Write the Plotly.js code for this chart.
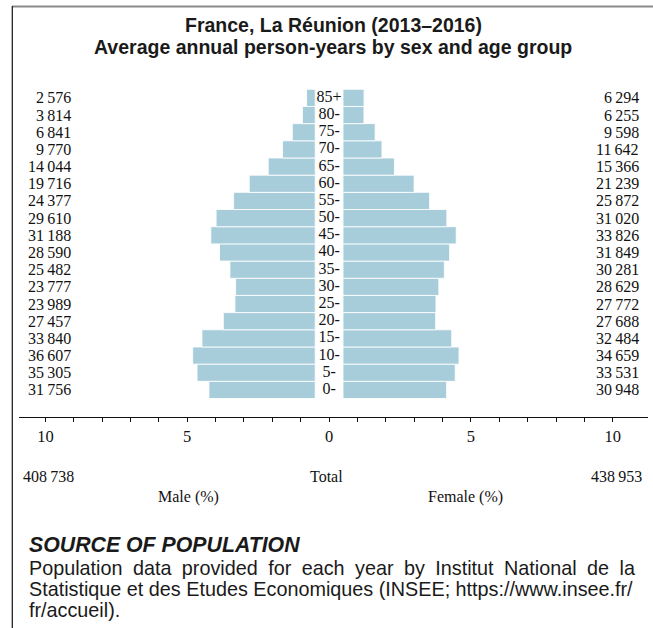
<!DOCTYPE html>
<html>
<head>
<meta charset="utf-8">
<script src="https://cdn.plot.ly/plotly-3.0.1.min.js"></script>
<style>
  html, body { margin: 0; padding: 0; background: #fff; }
  #chart { width: 653px; height: 628px; }
</style>
</head>
<body>
<div id="chart"></div>
<script>
// ---- data ----
const ages = ['0-','5-','10-','15-','20-','25-','30-','35-','40-','45-','50-','55-','60-','65-','70-','75-','80-','85+'];
const male = [31756,35305,36607,33840,27457,23989,23777,25482,28590,31188,29610,24377,19716,14044,9770,6841,3814,2576];
const female = [30948,33531,34659,32484,27688,27772,28629,30281,31849,33826,31020,25872,21239,15366,11642,9598,6255,6294];
const maleTotal = 408738;
const femaleTotal = 438953;
const tickValues = [-10,-9,-8,-7,-6,-5,-4,-3,-2,-1,0,1,2,3,4,5,6,7,8,9,10];
const tickLabels = ['10','','','','','5','','','','','0','','','','','5','','','','','10'];
const titleLines = ['France, La Réunion (2013\u20132016)', 'Average annual person-years by sex and age group'];
const sourceHeading = 'SOURCE OF POPULATION';
const sourceLines = [
  'Population data provided for each year by Institut National de la',
  'Statistique et des Etudes Economiques (INSEE; https://www.insee.fr/',
  'fr/accueil).'
];

// ---- layout constants ----
const W = 653, H = 628;
const L = 19, R = 5, T = 80, B = 211;
const pw = W - L - R, ph = H - T - B;
const px = x => (x - L) / pw;            // pixel -> paper x
const py = y => (H - B - y) / ph;        // pixel -> paper y
const gap = 0.49;
const barColor = '#a7ccda';
const serif = 'Liberation Serif, serif';
const sans = 'Liberation Sans, Arial, sans-serif';

const grand = maleTotal + femaleTotal;
const pct = v => v / grand * 100;
const fmt = n => String(n).replace(/\B(?=(\d{3})+(?!\d))/g, '\u2009');

const traces = [
  {
    type: 'bar', orientation: 'h', y: ages,
    x: male.map(v => -pct(v)), base: ages.map(() => -gap),
    width: 1,
    marker: { color: barColor, line: { color: 'rgba(255,255,255,0.85)', width: 1 } },
    hoverinfo: 'skip', showlegend: false
  },
  {
    type: 'bar', orientation: 'h', y: ages,
    x: female.map(v => pct(v)), base: ages.map(() => gap),
    width: 1,
    marker: { color: barColor, line: { color: 'rgba(255,255,255,0.85)', width: 1 } },
    hoverinfo: 'skip', showlegend: false
  },
  {
    type: 'scatter', mode: 'text', y: ages, x: ages.map(() => 0),
    text: ages, textposition: 'middle center',
    textfont: { family: serif, size: 16, color: '#111' },
    hoverinfo: 'skip', showlegend: false, cliponaxis: false
  }
];

const annotations = [];
ages.forEach((a, i) => {
  annotations.push({ xref: 'paper', yref: 'y', x: px(73), y: a, xanchor: 'right', yanchor: 'middle',
    text: fmt(male[i]), showarrow: false, font: { family: serif, size: 16, color: '#111' } });
  annotations.push({ xref: 'paper', yref: 'y', x: px(641), y: a, xanchor: 'right', yanchor: 'middle',
    text: fmt(female[i]), showarrow: false, font: { family: serif, size: 16, color: '#111' } });
});
const small = { family: serif, size: 16, color: '#111' };
annotations.push(
  { xref: 'paper', yref: 'paper', x: px(21), y: py(476), xanchor: 'left', yanchor: 'middle', text: fmt(maleTotal), showarrow: false, font: small },
  { xref: 'paper', yref: 'paper', x: px(326), y: py(476), xanchor: 'center', yanchor: 'middle', text: 'Total', showarrow: false, font: small },
  { xref: 'paper', yref: 'paper', x: px(644), y: py(476), xanchor: 'right', yanchor: 'middle', text: fmt(femaleTotal), showarrow: false, font: small },
  { xref: 'paper', yref: 'paper', x: px(188), y: py(497), xanchor: 'center', yanchor: 'middle', text: 'Male (%)', showarrow: false, font: small },
  { xref: 'paper', yref: 'paper', x: px(466), y: py(497), xanchor: 'center', yanchor: 'middle', text: 'Female (%)', showarrow: false, font: small }
);
// title lines
const titleY = [25, 47];
titleLines.forEach((t, i) => annotations.push({
  xref: 'paper', yref: 'paper', x: px(333), y: py(titleY[i]), xanchor: 'center', yanchor: 'middle',
  text: '<b>' + t + '</b>', showarrow: false, font: { family: sans, size: 19.5, color: '#1a1a1a' }
}));
// source block
annotations.push({ xref: 'paper', yref: 'paper', x: px(27), y: py(545), xanchor: 'left', yanchor: 'middle',
  text: '<b><i>' + sourceHeading + '</i></b>', showarrow: false,
  font: { family: sans, size: 21.3, color: '#1a1a1a' } });
const srcY = [568, 589, 610];
sourceLines.forEach((t, i) => annotations.push({
  xref: 'paper', yref: 'paper', x: px(27), y: py(srcY[i]), xanchor: 'left', yanchor: 'middle',
  text: i === 0 ? t.split(' ').join('\u2005 ') : t,
  showarrow: false, font: { family: sans, size: 19.8, color: '#1a1a1a' }
}));

const shapes = [
  { type: 'line', xref: 'paper', yref: 'paper', x0: px(12), x1: px(653), y0: py(6.5), y1: py(6.5),
    line: { color: '#8a8a8a', width: 2 } },
  { type: 'line', xref: 'paper', yref: 'paper', x0: px(12.3), x1: px(12.3), y0: py(6), y1: py(628),
    line: { color: '#222', width: 1.3 } }
];

const layout = {
  width: W, height: H,
  margin: { l: L, r: R, t: T, b: B, pad: 0 },
  paper_bgcolor: '#fff', plot_bgcolor: '#fff',
  barmode: 'overlay',
  xaxis: {
    range: [-10.93, 11.24], tickmode: 'array', tickvals: tickValues, ticktext: tickLabels,
    ticks: 'outside', ticklen: 4, tickwidth: 1, tickcolor: '#111',
    showline: true, linecolor: '#111', linewidth: 1,
    zeroline: false, showgrid: false, fixedrange: true,
    tickfont: { family: serif, size: 16.5, color: '#111' }
  },
  yaxis: {
    type: 'category', range: [-1.577, 18.04],
    showticklabels: false, showline: false, showgrid: false, zeroline: false, ticks: '', fixedrange: true
  },
  annotations: annotations,
  shapes: shapes,
  showlegend: false
};

Plotly.newPlot('chart', traces, layout, { displayModeBar: false, staticPlot: true });
</script>
</body>
</html>
